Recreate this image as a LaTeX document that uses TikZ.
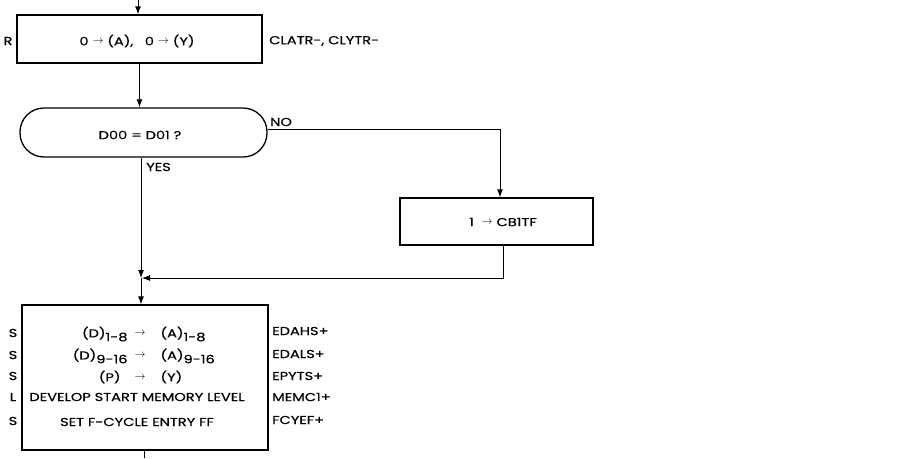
\documentclass[tikz,border=0pt]{standalone}
\usepackage{fontspec}
\setmainfont{Poppins}[FakeStretch=1.27, FakeBold=0.6]
\usetikzlibrary{arrows.meta}
\newcommand\myar{\raisebox{0.3ex}{\fontsize{11}{11}\selectfont$\rightarrow$}}
\newcommand\mysub[1]{\raisebox{-0.6ex}{#1}}
\begin{document}
\begin{tikzpicture}[x=1pt,y=-1pt,
  every node/.style={font=\fontsize{11.5}{13}\selectfont, inner sep=0pt},
  boxst/.style={draw, line width=1.3pt, minimum width=#1},
  line/.style={line width=1pt},
  arr/.style={line width=1pt, -{Latex[length=8pt,width=6pt]}},
  lbl/.style={anchor=west}]
\useasboundingbox (0,0) rectangle (909,458);
% boxes
\node[boxst=245pt, minimum height=48pt] (b1) at (139.5,39) {};
\node (b1t) at (137,41) {0\ \myar\ (A),\quad 0\ \myar\ (Y)};
\node (b1l) at (8,41) {R};
\node[lbl] (b1r) at (269,41) {CLATR-, CLYTR-};

\node[boxst=247pt, minimum height=49pt, rounded corners=24pt] (t) at (143.5,132.5) {};
\node (tt) at (140,135) {D00 = D01 ?};
\node[lbl] (no) at (270,122) {NO};
\node[lbl] (yes) at (146,167) {YES};

\node[boxst=193pt, minimum height=47pt] (cb) at (496.5,221.5) {};
\node (cbt) at (503,222) {1\ \ \myar\ CB1TF};

\node[boxst=246pt, minimum height=145pt] (b3) at (145,377.5) {};
\node (r1) at (140,334) {\llap{(D)\mysub{1-8}\hspace{7pt}}\myar\rlap{\hspace{15pt}(A)\mysub{1-8}}};
\node (r2) at (140,356) {\llap{(D)\mysub{9-16}\hspace{7pt}}\myar\rlap{\hspace{15pt}(A)\mysub{9-16}}};
\node (r3) at (140,377) {\llap{(P)\hspace{14pt}}\myar\rlap{\hspace{15pt}(Y)}};
\node (r4) at (137,397) {DEVELOP START MEMORY LEVEL};
\node (r5) at (137,422) {SET F-CYCLE ENTRY FF};
\node (l1) at (13,333) {S};
\node (l2) at (13,355) {S};
\node (l3) at (13,376) {S};
\node (l4) at (13,397) {L};
\node (l5) at (13,421) {S};
\node[lbl] (e1) at (272,331) {EDAHS+};
\node[lbl] (e2) at (272,354) {EDALS+};
\node[lbl] (e3) at (272,376) {EPYTS+};
\node[lbl] (e4) at (272,397) {MEMC1+};
\node[lbl] (e5) at (272,420) {FCYEF+};

% connectors
\coordinate (top) at (138,0);
\coordinate (j) at (141,278);
\coordinate (bot) at (144,458);
\draw[arr] (top) -- (top |- b1.north);
\draw[arr] (b1.south) -- (b1.south |- t.north);
\draw[arr] (j |- t.south) -- (j);
\draw[arr] (j) -- (j |- b3.north);
\draw[arr] ([yshift=3pt]t.east) -| ([xshift=3.5pt]cb.north);
\draw[arr] ([xshift=6.5pt]cb.south) |- ([xshift=1pt]j);
\draw[line] (bot |- b3.south) -- (bot);
\end{tikzpicture}
\end{document}
